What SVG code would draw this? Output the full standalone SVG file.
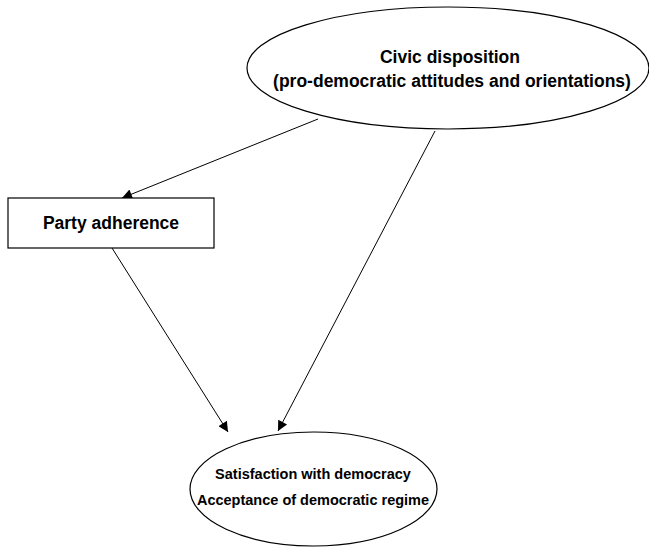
<svg xmlns="http://www.w3.org/2000/svg" width="649" height="547" viewBox="0 0 649 547">
<style>
.n{fill:#fff;stroke:#000;stroke-width:1.2}
.t{font-family:"Liberation Sans",Arial,sans-serif;font-weight:bold;font-size:17.5px;text-anchor:middle;fill:#000}
.s{font-size:14.5px}
.e{stroke:#000;stroke-width:1;fill:none}
</style>
<defs>
<marker id="a" viewBox="0 0 10 10" refX="10" refY="5" markerWidth="14" markerHeight="10" markerUnits="userSpaceOnUse" orient="auto">
<path d="M0,0 L10,5 L0,10 z" fill="#000"/>
</marker>
</defs>
<rect width="649" height="547" fill="#fff"/>
<g id="edges">
<line class="e" x1="318" y1="119" x2="122" y2="198" marker-end="url(#a)"/>
<line class="e" x1="435" y1="131" x2="278" y2="431" marker-end="url(#a)"/>
<line class="e" x1="112" y1="248" x2="228" y2="432" marker-end="url(#a)"/>
</g>
<g id="civic">
<ellipse class="n" cx="448" cy="68" rx="201" ry="61"/>
<text class="t" x="450" y="63">Civic disposition</text>
<text class="t" x="452" y="87">(pro-democratic attitudes and orientations)</text>
</g>
<g id="party">
<rect class="n" x="8" y="198" width="206" height="50"/>
<text class="t" x="111" y="229">Party adherence</text>
</g>
<g id="satisfaction">
<ellipse class="n" cx="313.5" cy="489" rx="123.5" ry="57"/>
<text class="t s" x="313" y="479">Satisfaction with democracy</text>
<text class="t s" x="313" y="505">Acceptance of democratic regime</text>
</g>
</svg>
